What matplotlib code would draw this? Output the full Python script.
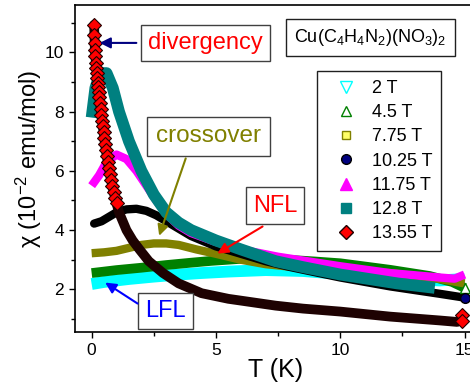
import matplotlib
matplotlib.use("Agg")
import matplotlib.pyplot as plt
from matplotlib.lines import Line2D

plt.rcParams['font.family'] = ['Liberation Sans', 'DejaVu Sans']
plt.rcParams['mathtext.fontset'] = 'custom'
plt.rcParams['mathtext.rm'] = 'Liberation Sans'
plt.rcParams['mathtext.it'] = 'Liberation Sans'

# data (T in K, chi in 1e-2 emu/mol)
t_2 = [0.0, 0.5, 1.0, 1.5, 2.5, 3.5, 4.4, 5.5, 7.0, 8.5, 10.0, 12.0, 14.0, 15.0]
chi_2 = [2.18, 2.25, 2.3, 2.35, 2.43, 2.5, 2.55, 2.6, 2.65, 2.62, 2.52, 2.38, 2.3, 2.35]

t_45 = [0.0, 0.5, 1.0, 2.0, 3.0, 4.0, 4.8, 6.0, 7.5, 9.0, 10.0, 12.0, 13.6, 14.5, 15.0]
chi_45 = [2.55, 2.6, 2.65, 2.73, 2.82, 2.9, 2.96, 3.03, 3.02, 2.94, 2.88, 2.66, 2.45, 2.25, 2.05]

t_775 = [0.0, 0.5, 1.0, 1.5, 2.0, 2.5, 3.0, 3.5, 4.2, 5.0, 6.0, 7.0, 8.5, 10.0, 12.0, 14.0, 15.0]
chi_775 = [3.22, 3.25, 3.3, 3.4, 3.5, 3.55, 3.55, 3.5, 3.35, 3.2, 3.0, 2.85, 2.72, 2.65, 2.55, 2.35, 2.2]

t_1025 = [0.1, 0.4, 0.7, 1.0, 1.4, 1.8, 2.2, 2.6, 3.0, 3.5, 4.0, 5.0, 6.0, 7.0, 8.0, 10.0, 12.0, 14.0, 15.0]
chi_1025 = [4.22, 4.3, 4.45, 4.6, 4.7, 4.72, 4.65, 4.5, 4.3, 4.05, 3.8, 3.45, 3.2, 2.95, 2.75, 2.4, 2.1, 1.85, 1.72]

t_1175 = [0.0, 0.3, 0.6, 1.0, 1.4, 1.8, 2.2, 2.6, 3.0, 3.5, 4.0, 5.0, 6.0, 7.5, 10.0, 12.0, 14.0, 14.6, 15.0]
chi_1175 = [5.5, 5.85, 6.3, 6.55, 6.4, 6.0, 5.5, 5.0, 4.55, 4.15, 3.9, 3.6, 3.35, 3.1, 2.78, 2.55, 2.4, 2.36, 2.5]

t_128 = [0.0, 0.15, 0.35, 0.6, 0.85, 1.1, 1.5, 2.0, 2.5, 3.0, 3.5, 4.0, 5.0, 6.0, 7.4, 8.5, 10.0, 12.3, 13.8]
chi_128 = [7.8, 8.8, 9.3, 9.3, 8.8, 8.0, 7.0, 6.0, 5.2, 4.6, 4.25, 4.0, 3.65, 3.35, 2.95, 2.75, 2.5, 2.2, 2.05]

t_1355 = [0.10, 0.11, 0.12, 0.13, 0.15, 0.17, 0.19, 0.21, 0.23, 0.25, 0.27, 0.29, 0.31,
          0.33, 0.36, 0.39, 0.42, 0.45, 0.48, 0.51, 0.54, 0.57, 0.61, 0.65, 0.69, 0.73,
          0.78, 0.83, 0.88, 0.94, 1.0,
          1.1, 1.4, 1.65, 1.94, 2.3, 2.87, 3.5, 4.42, 5.5, 6.0, 7.4, 8.5, 10.0, 12.0, 14.0, 14.7]
chi_1355 = [10.93, 10.59, 10.32, 10.08, 9.88, 9.65, 9.48, 9.31, 9.14, 8.97, 8.82, 8.66, 8.5,
            8.3, 8.1, 7.9, 7.7, 7.5, 7.3, 7.1, 6.9, 6.7, 6.5, 6.3, 6.1, 5.9,
            5.7, 5.5, 5.3, 5.1, 4.9,
            4.6, 4.0, 3.65, 3.33, 2.95, 2.55, 2.2, 1.87, 1.68, 1.62, 1.45, 1.35, 1.25, 1.08, 0.95, 0.9]
n_sparse = 31  # low-T diamonds that are still seen one by one

end_t_1355 = [14.88, 14.9]
end_chi_1355 = [1.13, 0.94]

W, H = 470, 383
fig = plt.figure(figsize=(W / 100, H / 100), dpi=100)
ax = fig.add_axes([75 / W, 51 / H, 402 / W, 327 / H])

band = dict(solid_capstyle='butt', solid_joinstyle='round')
ax.plot(t_2, chi_2, color='#00FFFF', lw=8.5, **band)
ax.plot(t_45, chi_45, color='#008000', lw=7, **band)
ax.plot(t_775, chi_775, color='#808000', lw=6, **band)
ax.plot(t_1025, chi_1025, color='#000000', lw=6, solid_capstyle='round', solid_joinstyle='round')
ax.plot(t_1175, chi_1175, color='#FF00FF', lw=6, **band)
ax.plot(t_128, chi_128, color='#008080', lw=8.5, **band)
ax.plot(t_1355, chi_1355, color='#1e0202', lw=7, solid_capstyle='round', solid_joinstyle='round')
ax.plot(t_1355[:n_sparse], chi_1355[:n_sparse], ls='none', marker='D', ms=7,
        mfc='#FF0000', mec='#200000', mew=0.8)

# last points
ax.plot(t_45[-1], chi_45[-1], ls='none', marker='^', ms=7, mfc='white', mec='#008000')
ax.plot(t_1025[-1], chi_1025[-1], ls='none', marker='o', ms=7, mfc='#000080', mec='black')
ax.plot(end_t_1355, end_chi_1355, ls='none', marker='D', ms=7, mfc='#FF0000', mec='#200000', mew=0.8)

ax.set_xlim(-0.67, 15.5)
ax.set_ylim(0.56, 11.6)
ax.set_xticks([0, 5, 10, 15])
ax.set_xticks([2.5, 7.5, 12.5], minor=True)
ax.set_yticks([2, 4, 6, 8, 10])
ax.set_yticks([1, 3, 5, 7, 9, 11], minor=True)
ax.tick_params(which='major', direction='out', length=4, width=1, labelsize=12.5, pad=4)
ax.tick_params(which='minor', direction='out', length=3, width=1)
for s in ax.spines.values():
    s.set_linewidth(1.2)

ax.set_xlabel('T (K)', fontsize=18, labelpad=0)
ax.set_ylabel(r'χ (10$^{-2}$ emu/mol)', fontsize=17)
ax.yaxis.set_label_coords(-0.078, 0.53)

box = dict(boxstyle='square,pad=0.3', fc='white', ec='#404040', lw=1)
arrow = dict(arrowstyle='-|>', lw=1.5, mutation_scale=16)

ax.text(4.59, 10.31, 'divergency', color='#FF0000', fontsize=17, ha='center', va='center', bbox=box)
ax.annotate('', xy=(0.21, 10.32), xytext=(1.91, 10.32), arrowprops=dict(arrow, color='#000080'))

ax.text(4.70, 7.17, 'crossover', color='#808000', fontsize=17.5, ha='center', va='center',
        bbox=dict(box, boxstyle='square,pad=0.35'))
ax.annotate('', xy=(2.68, 3.72), xytext=(3.82, 6.51), arrowprops=dict(arrow, color='#808000'))

ax.text(7.37, 4.83, 'NFL', color='#FF0000', fontsize=17, ha='center', va='center', bbox=box)
ax.annotate('', xy=(4.96, 3.16), xytext=(6.97, 4.17), arrowprops=dict(arrow, color='#FF0000'))

ax.text(2.98, 1.27, 'LFL', color='#0000FF', fontsize=17, ha='center', va='center', bbox=box)
ax.annotate('', xy=(0.45, 2.28), xytext=(1.94, 1.47), arrowprops=dict(arrow, color='#0000FF'))

ax.text(11.21, 10.51, r'Cu(C$_4$H$_4$N$_2$)(NO$_3$)$_2$', color='black', fontsize=13,
        ha='center', va='center', bbox=dict(boxstyle='square,pad=0.45', fc='white', ec='#202020', lw=1))

handles = [
    Line2D([], [], ls='none', marker='v', ms=9, mfc='white', mec='#00FFFF', label='2 T'),
    Line2D([], [], ls='none', marker='^', ms=7, mfc='white', mec='#008000', label='4.5 T'),
    Line2D([], [], ls='none', marker='s', ms=6, mfc='#FFFF66', mec='#808000', label='7.75 T'),
    Line2D([], [], ls='none', marker='o', ms=7, mfc='#000080', mec='black', label='10.25 T'),
    Line2D([], [], ls='none', marker='^', ms=8, mfc='#FF00FF', mec='#FF00FF', label='11.75 T'),
    Line2D([], [], ls='none', marker='s', ms=7, mfc='#008080', mec='#008080', label='12.8 T'),
    Line2D([], [], ls='none', marker='D', ms=7, mfc='#FF0000', mec='#200000', label='13.55 T'),
]
leg = fig.legend(handles=handles, loc='upper left', bbox_to_anchor=(316.7 / W, 1 - 71 / H),
                 fontsize=13, frameon=True, fancybox=False, edgecolor='#202020', framealpha=1,
                 handlelength=2.2, handletextpad=0.35, labelspacing=0.4, borderpad=0.5,
                 borderaxespad=0)
leg.get_frame().set_linewidth(1)

fig.savefig('out.png', dpi=100)
